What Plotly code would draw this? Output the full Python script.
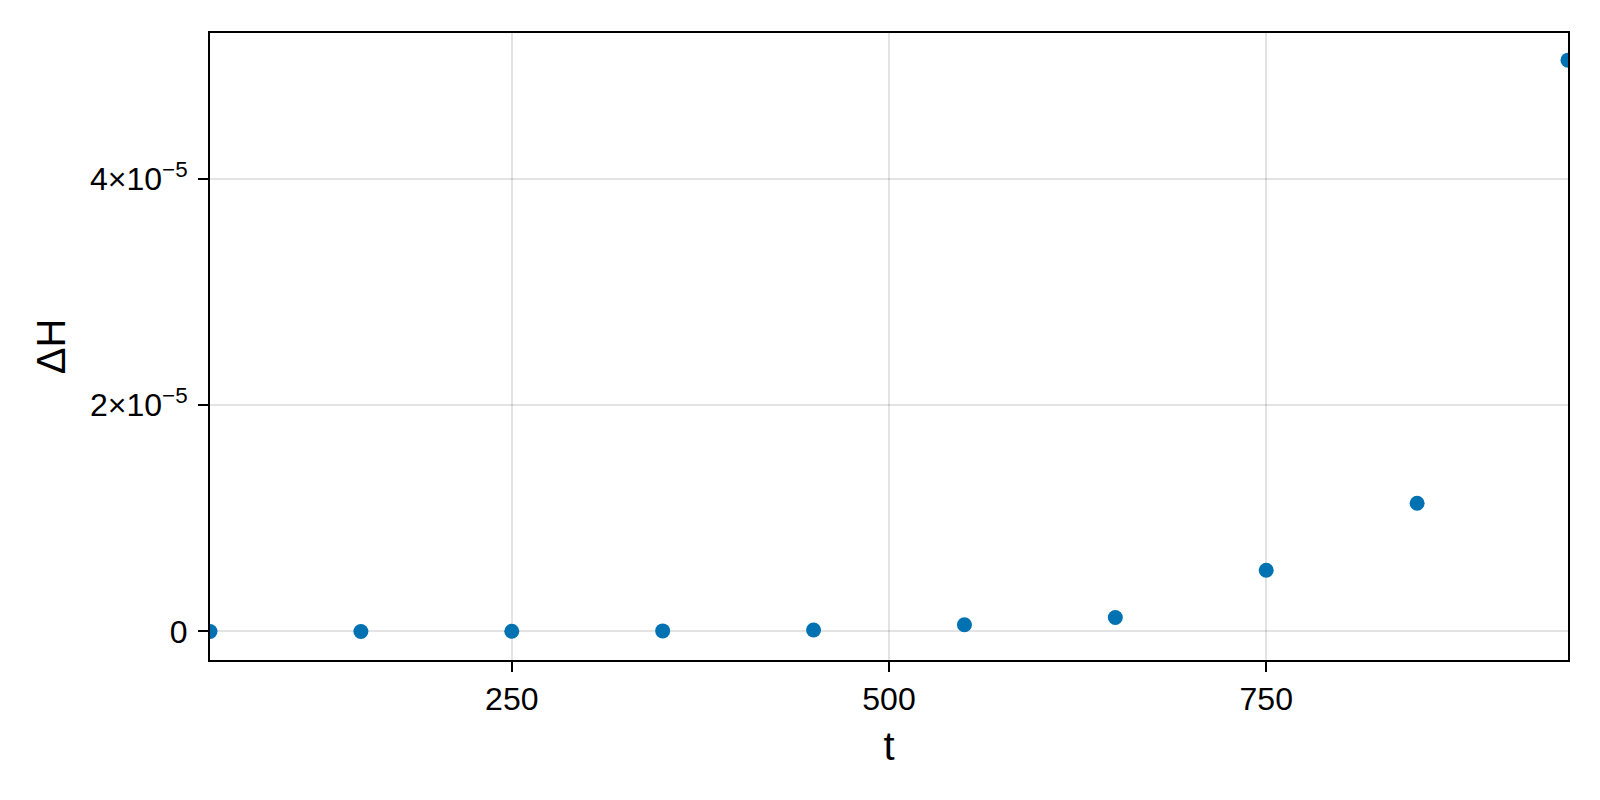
import plotly.graph_objects as go

t = [50, 150, 250, 350, 450, 550, 650, 750, 850, 950]
dH = [1e-9, 5e-9, 2e-8, 5e-8, 1.3e-7, 5.9e-7, 1.24e-6, 5.41e-6, 1.134e-5, 5.05e-5]

x_ticks = [250, 500, 750]
y_ticks = [0, 2e-5, 4e-5]
y_ticktext = ["0", "2×10<sup>−5</sup>", "4×10<sup>−5</sup>"]

font = "Liberation Sans, Arial, sans-serif"

fig = go.Figure(go.Scatter(
    x=t, y=dH, mode="markers",
    marker=dict(size=15, color="#0072B2"),
))

axis_common = dict(
    showline=True, linecolor="black", linewidth=2, mirror=True,
    showgrid=True, gridcolor="rgba(0,0,0,0.11)", gridwidth=1.5,
    zeroline=False,
    ticks="outside", ticklen=10, tickwidth=1.5, tickcolor="black",
    tickfont=dict(family=font, size=32, color="black"),
)

fig.update_layout(
    width=1600, height=800,
    paper_bgcolor="white", plot_bgcolor="white",
    margin=dict(l=202, r=40, t=25, b=148),
    showlegend=False,
    xaxis=dict(
        range=[50, 950], tickvals=x_ticks,
        title=dict(text="t", font=dict(family=font, size=40, color="black"), standoff=16),
        **axis_common,
    ),
    yaxis=dict(
        range=[-2.52e-6, 5.29e-5], tickvals=y_ticks, ticktext=y_ticktext,
        ticklabelstandoff=4,
        title=dict(text="ΔH", font=dict(family=font, size=40, color="black"), standoff=12),
        **axis_common,
    ),
)

fig.write_html("out.html")
